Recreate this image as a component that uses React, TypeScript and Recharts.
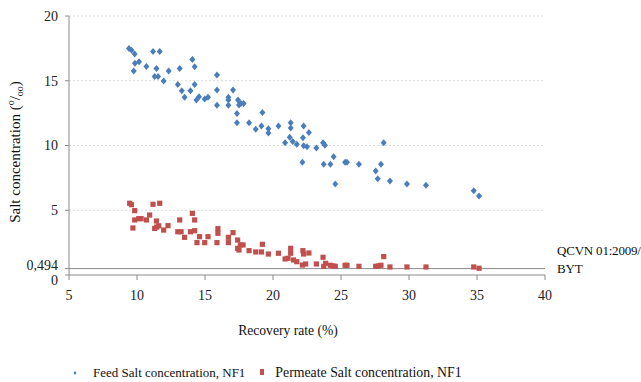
import { CartesianGrid, Label, ReferenceLine, Scatter, ScatterChart, XAxis, YAxis } from "recharts"

// recovery rate (%) and salt concentration (o/oo)
const feedX = [9.41, 9.6, 9.83, 9.76, 9.85, 10.15, 10.69, 11.18, 11.67, 11.43, 11.3, 11.55, 11.96, 12.33, 13.0, 13.14, 13.29, 13.5, 13.93, 14.07, 14.24, 14.24, 14.37, 14.56, 14.98, 15.22, 15.88, 15.88, 15.88, 16.72, 16.72, 16.72, 17.06, 17.35, 17.35, 17.43, 17.5, 17.64, 17.84, 18.24, 18.73, 19.15, 19.22, 19.66, 19.66, 20.4, 20.89, 21.23, 21.3, 21.3, 21.45, 21.75, 22.16, 22.2, 22.25, 22.25, 22.5, 22.64, 23.19, 23.68, 23.82, 23.73, 24.22, 24.46, 24.58, 25.3, 25.44, 26.32, 27.55, 27.7, 27.94, 28.14, 28.6, 29.85, 31.25, 34.76, 35.15]
const feedY = [17.5, 17.35, 17.07, 15.75, 16.35, 16.47, 16.1, 17.25, 17.25, 15.95, 15.32, 15.32, 14.98, 15.75, 14.72, 15.95, 14.23, 13.72, 14.23, 16.65, 16.09, 14.72, 13.51, 13.77, 13.59, 13.72, 15.44, 14.29, 13.1, 13.72, 13.51, 13.1, 14.29, 12.48, 11.76, 13.51, 13.13, 13.25, 13.25, 11.76, 11.25, 11.5, 12.54, 11.3, 10.96, 11.5, 10.22, 10.63, 11.76, 11.35, 10.3, 10.1, 8.7, 10.6, 11.5, 9.99, 9.9, 11.0, 9.8, 10.22, 10.01, 8.55, 8.55, 9.14, 7.03, 8.7, 8.7, 8.55, 8.03, 7.44, 8.55, 10.22, 7.26, 7.03, 6.93, 6.51, 6.1]

const permX = [9.46, 9.59, 9.83, 9.83, 9.7, 10.13, 10.3, 10.69, 10.93, 11.18, 11.67, 11.3, 11.45, 11.6, 11.43, 11.96, 12.28, 13.14, 13.0, 13.24, 13.5, 13.93, 14.07, 14.24, 14.24, 14.41, 14.6, 14.98, 15.22, 15.95, 15.95, 15.88, 16.72, 16.72, 17.06, 17.4, 17.4, 17.5, 17.6, 17.8, 18.24, 18.73, 19.15, 19.22, 19.66, 20.4, 20.89, 21.3, 21.3, 21.1, 21.5, 21.75, 22.2, 22.25, 22.16, 22.4, 22.64, 23.19, 23.68, 23.73, 23.87, 24.22, 24.4, 24.58, 25.3, 25.44, 26.32, 27.55, 27.75, 27.94, 28.14, 28.6, 29.85, 31.25, 34.76, 35.15]
const permY = [5.54, 5.43, 4.97, 4.25, 3.63, 4.35, 4.35, 4.25, 4.63, 5.46, 5.54, 3.6, 3.7, 3.8, 4.17, 3.47, 3.81, 4.25, 3.34, 3.34, 2.91, 3.34, 4.76, 4.25, 3.42, 2.5, 2.96, 2.5, 2.96, 3.58, 3.22, 2.5, 2.91, 2.5, 3.27, 2.7, 2.06, 1.93, 2.32, 2.32, 1.88, 1.78, 1.78, 2.37, 1.62, 1.68, 1.24, 2.06, 1.68, 1.29, 1.16, 1.03, 1.88, 1.62, 0.77, 0.85, 1.7, 0.85, 1.37, 0.67, 0.9, 0.75, 0.7, 0.67, 0.75, 0.75, 0.67, 0.67, 0.7, 0.75, 1.42, 0.62, 0.62, 0.62, 0.62, 0.52]

const xTicks = [5, 10, 15, 20, 25, 30, 35, 40]
const yTicks = [0, 0.494, 5, 10, 15, 20]
const limit = 0.494

const feedData = feedX.map((x, i) => ({ x, y: feedY[i] }))
const permData = permX.map((x, i) => ({ x, y: permY[i] }))

const font = "Liberation Serif"
const blue = "#4a7ebb"
const red = "#c0504d"

const Diamond = (props: any) => {
  const { cx, cy } = props
  return <polygon points={`${cx},${cy - 3.5} ${cx + 3},${cy} ${cx},${cy + 3.5} ${cx - 3},${cy}`} fill={blue} />
}

const Square = (props: any) => {
  const { cx, cy } = props
  return <rect x={cx - 2.6} y={cy - 2.6} width={5.2} height={5.2} fill={red} />
}

const YTick = (props: any) => {
  const { x, y, payload } = props
  const v = payload.value
  const shift = v === 0 ? 5 : v === limit ? -4 : 0
  const text = v === limit ? "0,494" : String(v)
  return (
    <text x={x} y={y + shift} dy="0.35em" textAnchor="end" fontSize={14} fill="#222" style={{ fontFamily: font }}>
      {text}
    </text>
  )
}

const YLabel = () => (
  <text transform="translate(20,152) rotate(-90)" textAnchor="middle" fontSize={15} fill="#111" style={{ fontFamily: font }}>
    Salt concentration (
    <tspan fontSize={10} dy={-6}>o</tspan>
    <tspan dy={6}>/</tspan>
    <tspan fontSize={10} dy={3}>oo</tspan>
    <tspan dy={-3}>)</tspan>
  </text>
)

export default function App() {
  return (
    <div style={{ position: "absolute", left: 0, top: 0, width: 641, height: 382, background: "#fff", fontFamily: font }}>
      <ScatterChart width={641} height={382} margin={{ top: 16, right: 96, bottom: 77, left: 0 }} style={{ fontFamily: font }}>
        <CartesianGrid vertical={false} horizontalValues={[5, 10, 15, 20]} stroke="#d9d9d9" strokeDasharray="2 2" />
        <XAxis
          type="number"
          dataKey="x"
          domain={[5, 40]}
          ticks={xTicks}
          interval={0}
          height={30}
          stroke="#8a8a8a"
          tickSize={5}
          tickMargin={10}
          tick={{ fontSize: 14, fontFamily: font, fill: "#222" }}
        >
          <Label value="Recovery rate (%)" position="bottom" offset={20} dx={-19} fontSize={13.6} fontFamily={font} fill="#111" />
        </XAxis>
        <YAxis
          type="number"
          dataKey="y"
          domain={[0, 20]}
          ticks={yTicks}
          interval={0}
          width={69}
          stroke="#8a8a8a"
          tickSize={4}
          tickMargin={7}
          tick={<YTick />}
        >
          <Label content={<YLabel />} />
        </YAxis>
        <ReferenceLine y={limit} stroke="#8c8c8c" strokeWidth={1} />
        <Scatter data={feedData} shape={<Diamond />} isAnimationActive={false} />
        <Scatter data={permData} shape={<Square />} isAnimationActive={false} />
      </ScatterChart>
      <div style={{ position: "absolute", left: 557, top: 242, fontSize: 13, letterSpacing: -0.2, lineHeight: "18px", color: "#111", whiteSpace: "nowrap" }}>
        QCVN 01:2009/
        <br />
        BYT
      </div>
      <div style={{ position: "absolute", left: 70, top: 365, fontSize: 13, lineHeight: "15px", color: "#111", whiteSpace: "nowrap", display: "flex", alignItems: "center" }}>
        <svg width={10} height={10} style={{ marginRight: 13 }}>
          <polygon points="5,3 6.5,5 5,7 3.5,5" fill={blue} />
        </svg>
        <span>Feed Salt concentration, NF1</span>
        <svg width={10} height={10} style={{ marginLeft: 12, marginRight: 8 }}>
          <rect x={3} y={1} width={4} height={6} fill={red} />
        </svg>
        <span style={{ fontSize: 13.8 }}>Permeate Salt concentration, NF1</span>
      </div>
    </div>
  )
}
